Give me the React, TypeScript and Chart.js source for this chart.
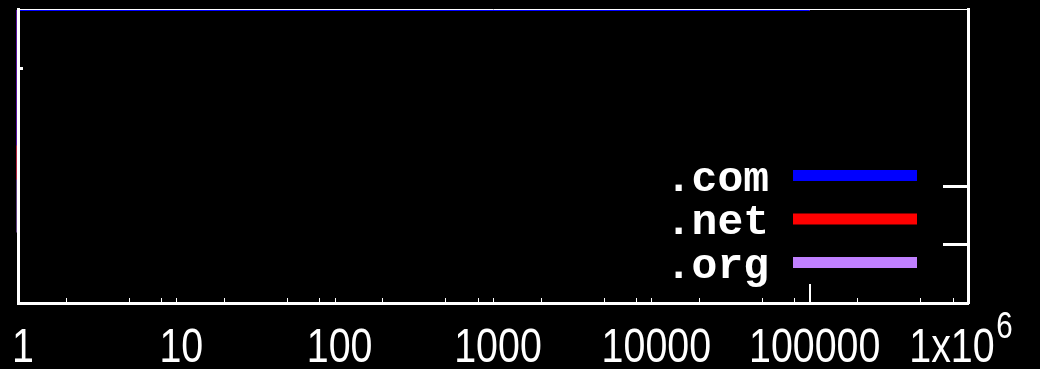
import React, { useEffect, useRef } from "react";
import { Chart, registerables } from "chart.js";

Chart.register(...registerables);

// ---- data ----
const seriesLabels = [".com", ".net", ".org"];
const seriesColors = ["#0000ff", "#ff0000", "#c080ff"];
const comX = [1, 1, 100000];
const comY = [53.7, 100, 100];
const netX = [1, 1, 100000];
const netY = [42.1, 100, 100];
const orgX = [1, 1, 100000];
const orgY = [24.0, 100, 100];
const xTickValues = [1, 10, 100, 1000, 10000, 100000, 1000000];
const xTickLabels = ["1", "10", "100", "1000", "10000", "100000", "1x10^6"];
const minorMultipliers = [2, 5, 8];
const longTickValues = [100000];
const rightYTicks = [20, 40];
const leftYTicks = [80];

const LABEL_FONT = '"Liberation Sans", Arial, sans-serif';
const LEGEND_FONT = '"Liberation Mono", "DejaVu Sans Mono", monospace';
const LABEL_SQUEEZE = 0.82;

const toPoints = (xs: number[], ys: number[]) => xs.map((x, i) => ({ x, y: ys[i] }));

const blackBg = {
  id: "blackBg",
  beforeDraw(chart: any) {
    const { ctx, width, height } = chart;
    ctx.save();
    ctx.fillStyle = "#000";
    ctx.fillRect(0, 0, width, height);
    ctx.restore();
  },
};

// draws a (horizontally condensed) label, supporting a "^" superscript part
function drawTickLabel(ctx: any, text: string, cx: number, baseline: number) {
  const parts = text.split("^");
  ctx.font = `48px ${LABEL_FONT}`;
  const w0 = ctx.measureText(parts[0]).width;
  let w1 = 0;
  if (parts[1]) {
    ctx.font = `36px ${LABEL_FONT}`;
    w1 = ctx.measureText(parts[1]).width + 2;
  }
  const total = w0 + w1;
  ctx.save();
  ctx.translate(cx, baseline);
  ctx.scale(LABEL_SQUEEZE, 1);
  ctx.textAlign = "left";
  ctx.textBaseline = "alphabetic";
  ctx.font = `48px ${LABEL_FONT}`;
  ctx.fillText(parts[0], -total / 2, 0);
  if (parts[1]) {
    ctx.font = `36px ${LABEL_FONT}`;
    ctx.fillText(parts[1], -total / 2 + w0 + 2, -24);
  }
  ctx.restore();
}

const decorations = {
  id: "decorations",
  afterDraw(chart: any) {
    const { ctx, chartArea } = chart;
    const xs = chart.scales.x;
    const ys = chart.scales.y;
    ctx.save();
    // inward minor ticks on bottom
    ctx.strokeStyle = "#ffffff";
    ctx.lineWidth = 1;
    for (let k = 0; k < xTickValues.length - 1; k++) {
      const base = xTickValues[k];
      const vals = [base, ...minorMultipliers.map((m) => m * base)];
      vals.forEach((v) => {
        const px = Math.round(xs.getPixelForValue(v)) + 0.5;
        ctx.beginPath();
        ctx.moveTo(px, chartArea.bottom - 1);
        ctx.lineTo(px, chartArea.bottom - 5);
        ctx.stroke();
      });
    }
    ctx.lineWidth = 2;
    longTickValues.forEach((v) => {
      const px = Math.round(xs.getPixelForValue(v));
      ctx.beginPath();
      ctx.moveTo(px, chartArea.bottom - 1);
      ctx.lineTo(px, chartArea.bottom - 19);
      ctx.stroke();
    });
    // right inward ticks
    ctx.lineWidth = 3;
    rightYTicks.forEach((v) => {
      const py = Math.round(ys.getPixelForValue(v)) + 0.5;
      ctx.beginPath();
      ctx.moveTo(chartArea.right, py);
      ctx.lineTo(chartArea.right - 25, py);
      ctx.stroke();
    });
    leftYTicks.forEach((v) => {
      const py = Math.round(ys.getPixelForValue(v)) + 0.5;
      ctx.beginPath();
      ctx.moveTo(chartArea.left, py);
      ctx.lineTo(chartArea.left + 5, py);
      ctx.stroke();
    });

    // x tick labels
    ctx.fillStyle = "#ffffff";
    xs.ticks.forEach((t: any, i: number) => {
      const px = xs.getPixelForValue(t.value);
      const isLast = i === xTickValues.length - 1;
      drawTickLabel(ctx, xTickLabels[i], px + (isLast ? -7 : 5), 362);
    });

    // legend
    chart.data.datasets.forEach((ds: any, i: number) => {
      const cy = 175.5 + i * 43.5;
      ctx.font = `bold 43px ${LEGEND_FONT}`;
      ctx.textAlign = "right";
      ctx.textBaseline = "alphabetic";
      ctx.fillStyle = "#ffffff";
      ctx.fillText(ds.label, 769, cy + 15);
      ctx.fillStyle = ds.borderColor;
      ctx.fillRect(793, cy - 5.5, 124, 11);
    });
    ctx.restore();
  },
};

export default function App() {
  const ref = useRef<HTMLCanvasElement | null>(null);

  useEffect(() => {
    document.body.style.margin = "0";
    document.body.style.background = "#000";
    const canvas = ref.current;
    if (!canvas) return;
    const xsArr = [comX, netX, orgX];
    const ysArr = [comY, netY, orgY];
    const noPad = (s: any) => {
      s.paddingLeft = 0;
      s.paddingRight = 0;
      s.paddingTop = 0;
      s.paddingBottom = 0;
    };
    const chart = new Chart(canvas, {
      type: "line",
      data: {
        datasets: seriesLabels.map((label, i) => ({
          label,
          data: toPoints(xsArr[i], ysArr[i]),
          borderColor: seriesColors[i],
          backgroundColor: seriesColors[i],
          borderWidth: 3,
          pointRadius: 0,
          tension: 0,
          fill: false,
          order: i,
          clip: { left: 3, top: -0.5, right: 0, bottom: 0 },
        })),
      },
      options: {
        responsive: false,
        animation: false,
        devicePixelRatio: 1,
        layout: { padding: 0 },
        plugins: { legend: { display: false }, tooltip: { enabled: false } },
        scales: {
          x: {
            type: "logarithmic",
            position: "bottom",
            min: 1,
            max: 1000000,
            afterBuildTicks: (s: any) => {
              s.ticks = xTickValues.map((v) => ({ value: v }));
            },
            afterFit: (s: any) => {
              s.height = 66;
              noPad(s);
            },
            ticks: { display: false, autoSkip: false, maxRotation: 0 },
            grid: { drawOnChartArea: false, drawTicks: false, color: "rgba(0,0,0,0)" },
            border: { color: "#ffffff", width: 3, z: 1 },
          },
          xTop: {
            type: "linear",
            position: "top",
            min: 0,
            max: 1,
            afterFit: (s: any) => {
              s.height = 9.5;
              noPad(s);
            },
            ticks: { display: false },
            grid: { drawOnChartArea: false, drawTicks: false, color: "rgba(0,0,0,0)" },
            border: { color: "#ffffff", width: 1, z: 1 },
          },
          y: {
            type: "linear",
            position: "left",
            min: 0,
            max: 100,
            afterFit: (s: any) => {
              s.width = 18;
              noPad(s);
            },
            ticks: { display: false },
            grid: { drawOnChartArea: false, drawTicks: false, color: "rgba(0,0,0,0)" },
            border: { color: "#ffffff", width: 3, z: 1 },
          },
          yRight: {
            type: "linear",
            position: "right",
            min: 0,
            max: 100,
            afterFit: (s: any) => {
              s.width = 72;
              noPad(s);
            },
            ticks: { display: false },
            grid: { drawOnChartArea: false, drawTicks: false, color: "rgba(0,0,0,0)" },
            border: { color: "#ffffff", width: 3, z: 1 },
          },
        },
      },
      plugins: [blackBg, decorations],
    });
    return () => chart.destroy();
  }, []);

  return (
    <canvas
      ref={ref}
      width={1040}
      height={369}
      style={{ display: "block", width: 1040, height: 369 }}
    />
  );
}
